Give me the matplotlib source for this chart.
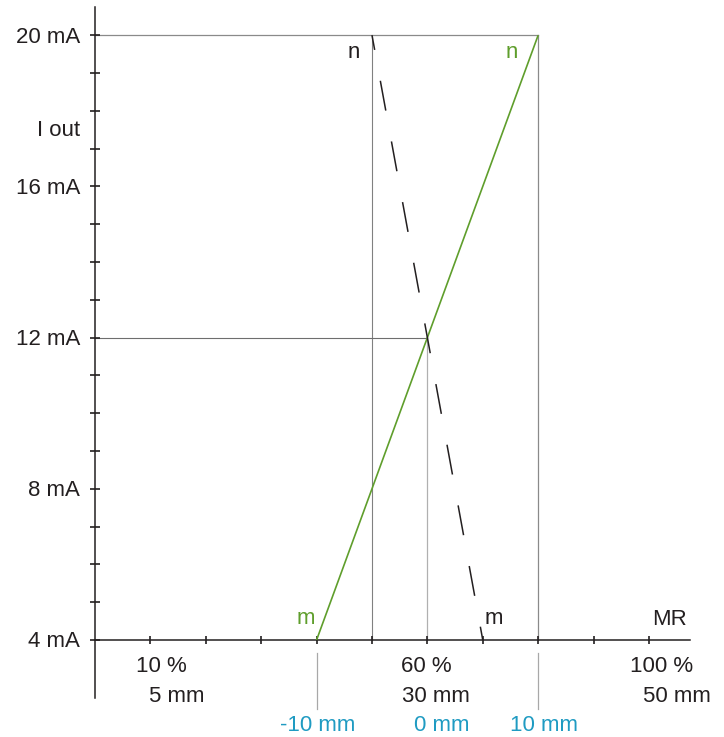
import numpy as np
import matplotlib
matplotlib.use("Agg")
import matplotlib.pyplot as plt

plt.rcParams['font.family'] = ['Liberation Sans', 'DejaVu Sans']
plt.rcParams['lines.scale_dashes'] = False

# current axis (mA) and travel (mm)
ma_ticks = list(range(4, 21))
ma_labels = {4: '4 mA', 8: '8 mA', 12: '12 mA', 16: '16 mA', 20: '20 mA'}
mm_ticks = list(range(5, 55, 5))

pct_labels = ['10 %', '60 %', '100 %']
abs_mm_labels = ['5 mm', '30 mm', '50 mm']
rel_mm_pos = [20, 30, 40]
rel_mm_labels = ['-10 mm', '0 mm', '10 mm']

# output lines: green (m -> n rising), black dashed (n -> m falling)
green_mm = [20, 40]
green_ma = [4, 20]
dash_mm = [25, 35]
dash_ma = [20, 4]

DARK = '#231f20'
GREEN = '#5f9e2c'
BLUE = '#1f9bc2'

fig = plt.figure(figsize=(7.24, 7.37), dpi=100)
ax = fig.add_axes([0, 0, 1, 1])
ax.set_xlim(-8.57, 56.77)
ax.set_ylim(1.435, 20.93)
ax.patch.set_visible(False)

for s in ['top', 'right']:
    ax.spines[s].set_visible(False)
ax.spines['left'].set_position(('data', 0))
ax.spines['left'].set_bounds(2.47, 20.74)
ax.spines['bottom'].set_position(('data', 4))
ax.spines['bottom'].set_bounds(0, 53.7)
for s in ['left', 'bottom']:
    ax.spines[s].set_color(DARK)
    ax.spines[s].set_linewidth(1.1)

ax.set_yticks(ma_ticks)
ax.set_xticks(mm_ticks)
ax.tick_params(axis='y', direction='inout', length=6.5, width=1.2, color=DARK, labelleft=False)
ax.tick_params(axis='x', direction='inout', length=5.5, width=1.2, color=DARK, labelbottom=False)

# guide lines
ax.plot([0, 40], [20, 20], color='#8a8a8a', lw=0.9, zorder=1)
ax.plot([25, 25], [4, 20], color='#808080', lw=0.8, zorder=1)
ax.plot([40, 40], [4, 20], color='#8a8a8a', lw=0.9, zorder=1)
ax.plot([0, 30], [12, 12], color='#6e6e6e', lw=0.8, zorder=1)
ax.plot([30, 30], [4, 12], color='#b0b0b0', lw=0.9, zorder=1)
for x in [20, 40]:
    ax.plot([x, x], [3.656, 2.175], color='#a8a8a8', lw=0.9, zorder=1)

ax.plot(green_mm, green_ma, color=GREEN, lw=1.2, zorder=3, solid_capstyle='butt')
ax.plot(dash_mm, dash_ma, color=DARK, lw=1.1, zorder=3,
        linestyle=(11, (21.8, 22.6)), dash_capstyle='butt')

fs = 16
dy = -0.05  # nudge text down a touch
for v, lab in ma_labels.items():
    ax.text(-1.35, v + dy, lab, ha='right', va='center', fontsize=fs, color=DARK)
ax.text(-1.35, 17.54 + dy, 'I out', ha='right', va='center', fontsize=fs, color=DARK)

pct_x = [5.96, 29.87, 51.17]
mm_x = [7.40, 30.78, 52.53]
for x, lab in zip(pct_x, pct_labels):
    ax.text(x, 3.34 + dy, lab, ha='center', va='center', fontsize=fs, color=DARK)
for x, lab in zip(mm_x, abs_mm_labels):
    ax.text(x, 2.545 + dy, lab, ha='center', va='center', fontsize=fs, color=DARK)

rel_x = [20.13, 31.32, 40.52]
for x, lab in zip(rel_x, rel_mm_labels):
    ax.text(x, 1.78 + dy, lab, ha='center', va='center', fontsize=fs, color=BLUE)

ax.text(19.04, 4.58, 'm', ha='center', va='center', fontsize=fs, color=GREEN)
ax.text(37.64, 19.55, 'n', ha='center', va='center', fontsize=fs, color=GREEN)
ax.text(23.38, 19.55, 'n', ha='center', va='center', fontsize=fs, color=DARK)
ax.text(36.01, 4.58, 'm', ha='center', va='center', fontsize=fs, color=DARK)
ax.text(51.81, 4.58 + dy, 'MR', ha='center', va='center', fontsize=fs, color=DARK)

fig.savefig('out.png', dpi=100)
